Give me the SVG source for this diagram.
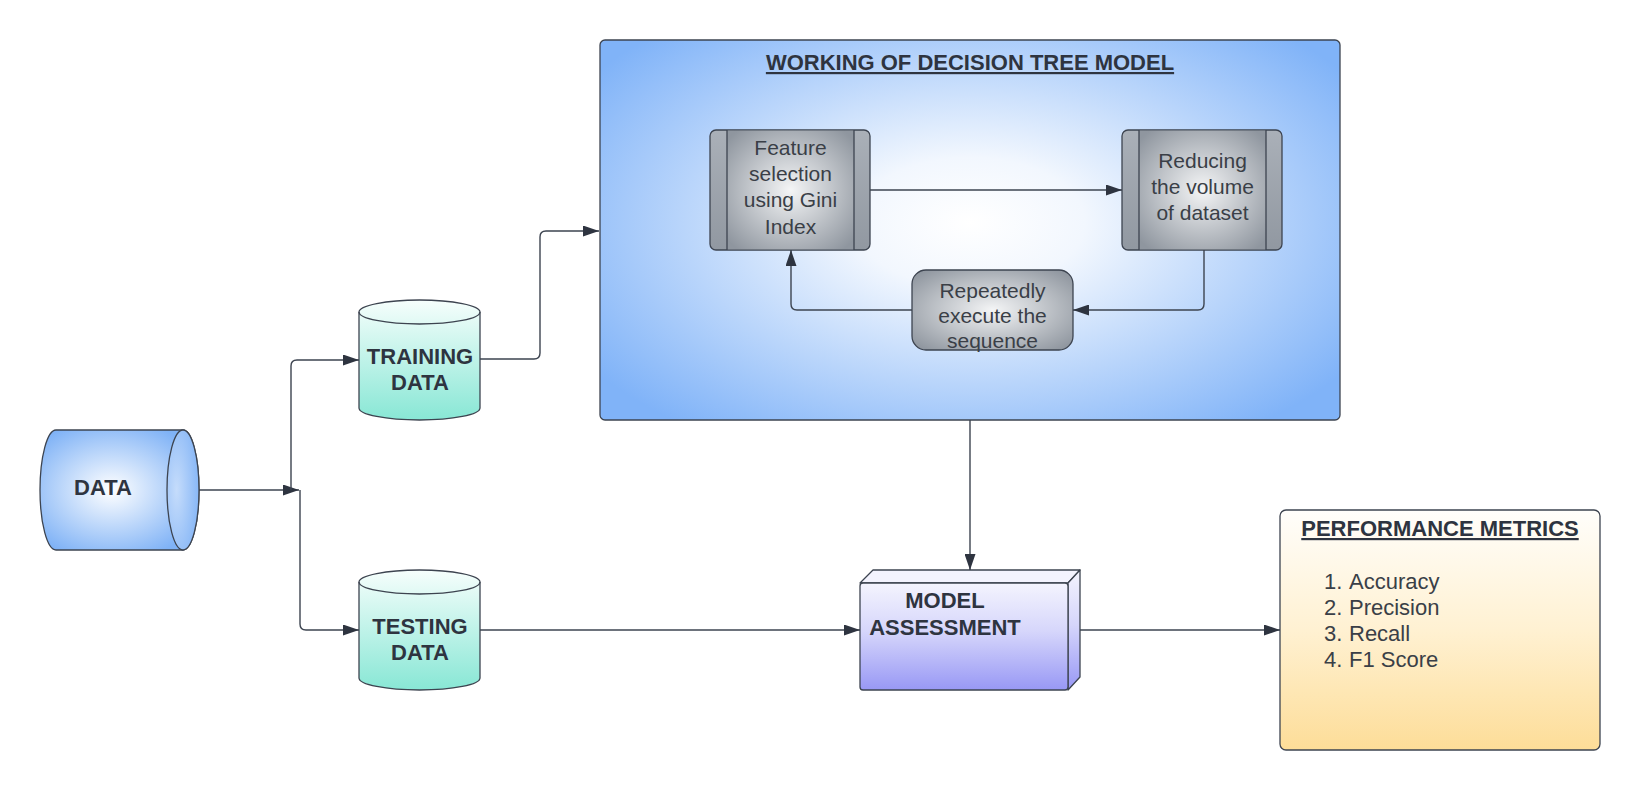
<svg xmlns="http://www.w3.org/2000/svg" width="1640" height="790" viewBox="0 0 1640 790">
<defs>
<style>
.shape{stroke:#3d4450;stroke-width:1.3}
.line{fill:none;stroke:#3d4450;stroke-width:1.4;marker-end:url(#arr)}
.b{font-family:"Liberation Sans",Arial,sans-serif;font-weight:bold;font-size:22px;fill:#2e3440;text-anchor:middle}
.r{font-family:"Liberation Sans",Arial,sans-serif;font-size:21px;fill:#3a3f47;text-anchor:middle}
.l{font-family:"Liberation Sans",Arial,sans-serif;font-size:22px;fill:#3a3f47}
.u{text-decoration:underline}
</style>
<marker id="arr" viewBox="0 0 16 11" markerWidth="16" markerHeight="11" refX="16" refY="5.5" orient="auto" markerUnits="userSpaceOnUse">
<path d="M0,0 L16,5.5 L0,11 z" fill="#2e3440"/>
</marker>
<radialGradient id="gData" cx="0.45" cy="0.5" r="0.6">
<stop offset="0" stop-color="#ffffff"/>
<stop offset="1" stop-color="#7fb2f6"/>
</radialGradient>
<radialGradient id="gDataEnd" cx="0.3" cy="0.5" r="0.8">
<stop offset="0" stop-color="#c5dcfb"/>
<stop offset="1" stop-color="#7fb2f6"/>
</radialGradient>
<linearGradient id="gCyl" x1="0" y1="0" x2="0" y2="1">
<stop offset="0" stop-color="#f6fefc"/>
<stop offset="1" stop-color="#88e7d5"/>
</linearGradient>
<radialGradient id="gBig" cx="0.5" cy="0.48" r="0.62" gradientTransform="translate(0.5 0.48) scale(1 1.1) translate(-0.5 -0.48)">
<stop offset="0" stop-color="#ffffff"/>
<stop offset="0.25" stop-color="#f2f7fe"/>
<stop offset="1" stop-color="#80b3f8"/>
</radialGradient>
<radialGradient id="gGray" cx="0.5" cy="0.5" r="0.65">
<stop offset="0" stop-color="#f4f5f6"/>
<stop offset="1" stop-color="#8f969f"/>
</radialGradient>
<linearGradient id="gSide" x1="0" y1="0" x2="0" y2="1">
<stop offset="0" stop-color="#aab0b8"/>
<stop offset="1" stop-color="#9198a1"/>
</linearGradient>
<linearGradient id="gModel" x1="0" y1="0" x2="0" y2="1">
<stop offset="0" stop-color="#f4f4fe"/>
<stop offset="0.45" stop-color="#d6d6fb"/>
<stop offset="1" stop-color="#9898f5"/>
</linearGradient>
<linearGradient id="gPerf" x1="0" y1="0" x2="0" y2="1">
<stop offset="0" stop-color="#fffefb"/>
<stop offset="0.5" stop-color="#fff1d2"/>
<stop offset="1" stop-color="#fddd98"/>
</linearGradient>
</defs>

<g id="data">
<path class="shape" d="M56,430 L183,430 A16,60 0 0 1 183,550 L56,550 A16,60 0 0 1 56,430 Z" fill="url(#gData)"/>
<path class="shape" d="M183,430 A16,60 0 0 1 183,550 A16,60 0 0 1 183,430 Z" fill="url(#gDataEnd)"/>
<text class="b" x="103" y="495">DATA</text>
</g>

<g id="training">
<path class="shape" d="M359,312 A60.5,12 0 0 1 480,312 L480,408 A60.5,12 0 0 1 359,408 Z" fill="url(#gCyl)"/>
<path class="shape" d="M359,312 A60.5,12 0 0 0 480,312" fill="none"/>
<text class="b" x="420" y="364">TRAINING</text>
<text class="b" x="420" y="390">DATA</text>
</g>

<g id="testing">
<path class="shape" d="M359,582 A60.5,12 0 0 1 480,582 L480,678 A60.5,12 0 0 1 359,678 Z" fill="url(#gCyl)"/>
<path class="shape" d="M359,582 A60.5,12 0 0 0 480,582" fill="none"/>
<text class="b" x="420" y="634">TESTING</text>
<text class="b" x="420" y="660">DATA</text>
</g>

<g id="decision-tree">
<rect class="shape" x="600" y="40" width="740" height="380" rx="5" fill="url(#gBig)"/>
<text class="b u" x="970" y="70">WORKING OF DECISION TREE MODEL</text>
</g>

<g id="feature-selection">
<rect class="shape" x="710" y="130" width="160" height="120" rx="6" fill="url(#gSide)"/>
<rect x="727" y="130.6" width="127" height="118.8" fill="url(#gGray)"/>
<path class="shape" d="M727,130 V250 M854,130 V250" fill="none"/>
<text class="r" x="790.5" y="155">Feature</text>
<text class="r" x="790.5" y="181">selection</text>
<text class="r" x="790.5" y="207">using Gini</text>
<text class="r" x="790.5" y="234">Index</text>
</g>

<g id="reducing">
<rect class="shape" x="1122" y="130" width="160" height="120" rx="6" fill="url(#gSide)"/>
<rect x="1139" y="130.6" width="127" height="118.8" fill="url(#gGray)"/>
<path class="shape" d="M1139,130 V250 M1266,130 V250" fill="none"/>
<text class="r" x="1202.5" y="168">Reducing</text>
<text class="r" x="1202.5" y="194">the volume</text>
<text class="r" x="1202.5" y="220">of dataset</text>
</g>

<g id="repeatedly">
<rect class="shape" x="912" y="270" width="161" height="80" rx="14" fill="url(#gGray)"/>
<text class="r" x="992.5" y="298">Repeatedly</text>
<text class="r" x="992.5" y="323">execute the</text>
<text class="r" x="992.5" y="348">sequence</text>
</g>

<g id="model-assessment">
<path class="shape" d="M860,583 L873,570 L1080,570 L1068,583 Z" fill="#f3f3fe" stroke-linejoin="round"/>
<path class="shape" d="M1068,583 L1080,570 L1080,677 L1068,690 Z" fill="url(#gModel)" stroke-linejoin="round"/>
<rect class="shape" x="860" y="583" width="208" height="107" rx="3" fill="url(#gModel)"/>
<text class="b" x="945" y="608">MODEL</text>
<text class="b" x="945" y="635">ASSESSMENT</text>
</g>

<g id="performance-metrics">
<rect class="shape" x="1280" y="510" width="320" height="240" rx="6" fill="url(#gPerf)"/>
<text class="b u" x="1440" y="536">PERFORMANCE METRICS</text>
<text class="l" x="1324" y="589">1.</text><text class="l" x="1349" y="589">Accuracy</text>
<text class="l" x="1324" y="615">2.</text><text class="l" x="1349" y="615">Precision</text>
<text class="l" x="1324" y="641">3.</text><text class="l" x="1349" y="641">Recall</text>
<text class="l" x="1324" y="667">4.</text><text class="l" x="1349" y="667">F1 Score</text>
</g>

<g id="connectors">
<path class="line" d="M199,490 H299"/>
<path class="line" d="M291,490 V366 Q291,360 297,360 H359"/>
<path class="line" d="M300,490 V624 Q300,630 306,630 H359"/>
<path class="line" d="M480,359 H534 Q540,359 540,353 V237 Q540,231 546,231 H599"/>
<path class="line" d="M870,190 H1122"/>
<path class="line" d="M1204,250 V304 Q1204,310 1198,310 H1073"/>
<path class="line" d="M912,310 H797 Q791,310 791,304 V250"/>
<path class="line" d="M970,420 V570"/>
<path class="line" d="M480,630 H860"/>
<path class="line" d="M1080,630 H1280"/>
</g>
</svg>
